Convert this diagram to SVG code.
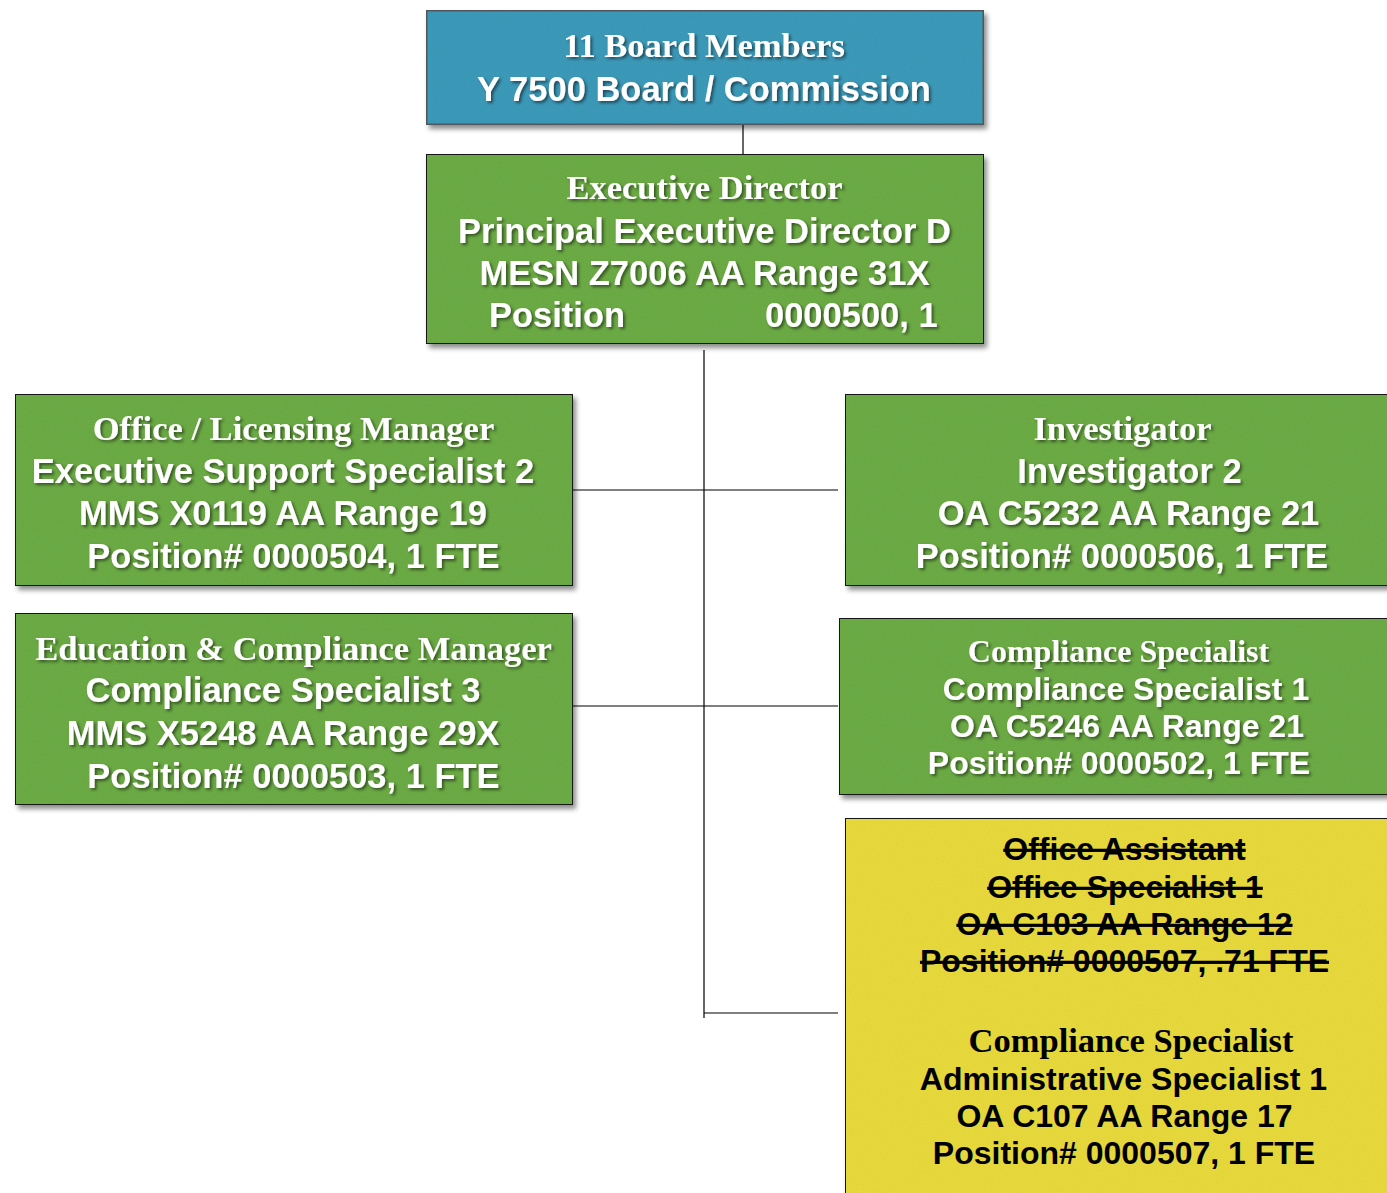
<svg xmlns="http://www.w3.org/2000/svg" width="1387" height="1193" viewBox="0 0 1387 1193">
<defs>
<filter id="boxShadow" x="-5%" y="-5%" width="115%" height="120%">
<feDropShadow dx="3" dy="4" stdDeviation="2.5" flood-color="#000" flood-opacity="0.45"/>
</filter>
<filter id="txtShadow" x="-5%" y="-20%" width="110%" height="150%">
<feDropShadow dx="2" dy="2" stdDeviation="1.5" flood-color="#000" flood-opacity="0.5"/>
</filter>
<filter id="grain" x="0" y="0" width="100%" height="100%">
<feTurbulence type="fractalNoise" baseFrequency="0.9" numOctaves="2" seed="3" result="n"/>
<feColorMatrix in="n" type="matrix" values="0 0 0 0 0  0 0 0 0 0  0 0 0 0 0  0 0 0 0.12 0" result="dark"/>
<feComposite in="dark" in2="SourceGraphic" operator="in" result="dk"/>
<feMerge><feMergeNode in="SourceGraphic"/><feMergeNode in="dk"/></feMerge>
</filter>
</defs>
<style>
.teal{fill:#3e9cbc;stroke:#555a5e;stroke-width:3}
.green{fill:#6eae46;stroke:#1a1a1a;stroke-width:2}
.yellow{fill:#ebdd3e;stroke:#1a1a1a;stroke-width:2}
.serif{font-family:"Liberation Serif","Times New Roman",serif;font-weight:bold;font-size:34.5px}
.sans{font-family:"Liberation Sans",Arial,sans-serif;font-weight:bold;font-size:34.5px}
.sm{font-size:32px}
.w{fill:#ffffff;filter:url(#txtShadow)}
.k{fill:#000000}
.strike{text-decoration:line-through}
.conn{stroke:#000;stroke-width:1.2;fill:none}
text{text-anchor:middle}
</style>
<rect width="1387" height="1193" fill="#ffffff"/>

<g id="connectors">
<line class="conn" x1="743" y1="125" x2="743" y2="154"/>
<line class="conn" x1="704" y1="350" x2="704" y2="1018"/>
<line class="conn" x1="573" y1="490" x2="838" y2="490"/>
<line class="conn" x1="573" y1="706" x2="838" y2="706"/>
<line class="conn" x1="704" y1="1013" x2="838" y2="1013"/>
</g>

<g id="board">
<g filter="url(#boxShadow)"><rect class="teal" x="426" y="10" width="558" height="115" filter="url(#grain)"/></g>
<text class="serif w" x="704" y="57">11 Board Members</text>
<text class="sans w" x="704" y="101">Y 7500 Board / Commission</text>
</g>

<g id="exec">
<g filter="url(#boxShadow)"><rect class="green" x="426" y="154" width="558" height="190" filter="url(#grain)"/></g>
<text class="serif w" x="704.5" y="199">Executive Director</text>
<text class="sans w" x="704.5" y="243">Principal Executive Director D</text>
<text class="sans w" x="704.5" y="285">MESN Z7006 AA Range 31X</text>
<text class="sans w" y="327" style="text-anchor:start"><tspan x="489">Position</tspan><tspan x="765">0000500, 1</tspan></text>
</g>

<g id="office-licensing">
<g filter="url(#boxShadow)"><rect class="green" x="15" y="394" width="558" height="192" filter="url(#grain)"/></g>
<text class="serif w" x="293.5" y="440">Office / Licensing Manager</text>
<text class="sans w" x="283" y="483">Executive Support Specialist 2</text>
<text class="sans w" x="283" y="525">MMS X0119 AA Range 19</text>
<text class="sans w" x="293.5" y="568">Position# 0000504, 1 FTE</text>
</g>

<g id="education-compliance">
<g filter="url(#boxShadow)"><rect class="green" x="15" y="613" width="558" height="192" filter="url(#grain)"/></g>
<text class="serif w" x="293.5" y="660">Education &amp; Compliance Manager</text>
<text class="sans w" x="283" y="702">Compliance Specialist 3</text>
<text class="sans w" x="283" y="745">MMS X5248 AA Range 29X</text>
<text class="sans w" x="293.5" y="788">Position# 0000503, 1 FTE</text>
</g>

<g id="investigator">
<g filter="url(#boxShadow)"><rect class="green" x="845" y="394" width="550" height="192" filter="url(#grain)"/></g>
<text class="serif w" x="1122.5" y="440">Investigator</text>
<text class="sans w" x="1129.5" y="483">Investigator 2</text>
<text class="sans w" x="1128.5" y="525">OA C5232 AA Range 21</text>
<text class="sans w" x="1122" y="568">Position# 0000506, 1 FTE</text>
</g>

<g id="compliance-specialist">
<g filter="url(#boxShadow)"><rect class="green" x="839" y="618" width="556" height="177" filter="url(#grain)"/></g>
<text class="serif sm w" x="1118.5" y="662">Compliance Specialist</text>
<text class="sans sm w" x="1126" y="700">Compliance Specialist 1</text>
<text class="sans sm w" x="1127" y="737">OA C5246 AA Range 21</text>
<text class="sans sm w" x="1119" y="774">Position# 0000502, 1 FTE</text>
</g>

<g id="admin-specialist">
<g filter="url(#boxShadow)"><rect class="yellow" x="845" y="818" width="550" height="390" filter="url(#grain)"/></g>
<text class="sans sm k strike" x="1124.5" y="860">Office Assistant</text>
<text class="sans sm k strike" x="1125" y="898">Office Specialist 1</text>
<text class="sans sm k strike" x="1124.5" y="935">OA C103 AA Range 12</text>
<text class="sans sm k strike" x="1124.5" y="972">Position# 0000507, .71 FTE</text>
<text class="serif k" x="1131" y="1052">Compliance Specialist</text>
<text class="sans sm k" x="1123.5" y="1090">Administrative Specialist 1</text>
<text class="sans sm k" x="1124.5" y="1127">OA C107 AA Range 17</text>
<text class="sans sm k" x="1124" y="1164">Position# 0000507, 1 FTE</text>
</g>
</svg>
